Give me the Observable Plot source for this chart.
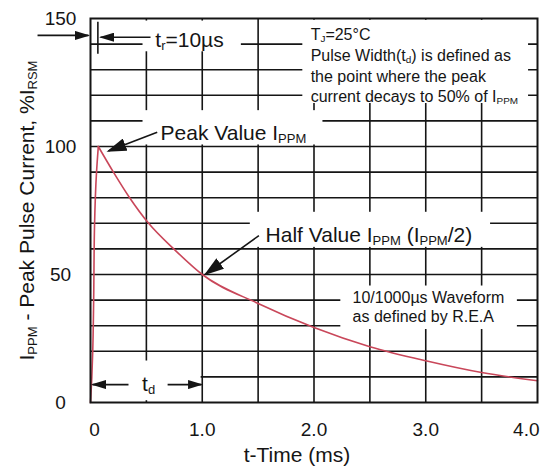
<!DOCTYPE html>
<html>
<head>
<meta charset="utf-8">
<script src="https://cdn.jsdelivr.net/npm/d3@7"></script>
<script src="https://cdn.jsdelivr.net/npm/@observablehq/plot@0.6"></script>
<style>
  html, body { margin: 0; padding: 0; background: #fff; }
</style>
</head>
<body>
<div id="chart"></div>
<script>
// ---- data ----
const xTicks = [0, 1, 2, 3, 4];
const xTickLabels = ["0", "1.0", "2.0", "3.0", "4.0"];
const yTicks = [0, 50, 100, 150];
const yTickLabels = ["0", "50", "100", "150"];
const gridX = [0.5, 1, 1.5, 2, 2.5, 3, 3.5];
const gridY = [10, 20, 30, 40, 50, 60, 70, 80, 90, 100, 110, 120, 130, 140];

// time (ms) and current (% of IRSM) along the 10/1000 µs waveform
const riseT = [0, 0.012, 0.02, 0.028, 0.036, 0.054, 0.07];
const riseI = [0, 10, 20, 39, 69, 90, 100];
const decayT = [0.07, 0.205, 0.35, 0.52, 0.745, 1.0, 1.5, 2.0, 2.5, 3.0, 3.5, 4.0];
const decayI = [100, 90, 80, 70, 60, 50, 38.7, 29.3, 21.8, 16.3, 11.7, 8.5];

const xLabel = "t-Time (ms)";
const yLabel = "I_{PPM} - Peak Pulse Current, %I_{RSM}";

// annotation texts
const bigNotes = [
  {x: 0.58, y: 141.6, text: "t_{r}=10µs"},
  {x: 0.627, y: 105.1, text: "Peak Value I_{PPM}"},
  {x: 1.567, y: 65.2, text: "Half Value I_{PPM} (I_{PPM}/2)"}
];
const tdNote = [{x: 0.52, y: 7.0, text: "t_{d}"}];
const boxNote = [{x: 1.97, y: 132, text: "T_{J}=25°C\nPulse Width(t_{d}) is defined as\nthe point where the peak\ncurrent decays to 50% of I_{PPM}"}];
const waveNote = [{x: 2.345, y: 37.5, text: "10/1000µs Waveform\nas defined by R.E.A"}];

// white boxes behind the annotation texts (hide the grid)
const masks = [
  {x1: 0.47, x2: 1.35, y1: 137, y2: 149},
  {x1: 0.47, x2: 2.08, y1: 100.6, y2: 114},
  {x1: 1.9, x2: 3.92, y1: 116.8, y2: 149.3},
  {x1: 1.43, x2: 3.58, y1: 60.6, y2: 74.3},
  {x1: 2.24, x2: 3.82, y1: 28.5, y2: 45.5},
  {x1: 0.005, x2: 0.99, y1: 0.7, y2: 16.2}
];

// arrows (tail -> tip)
const smallArrows = [
  {x1: -0.474, y1: 143.4, x2: -0.018, y2: 143.4},
  {x1: 0.537, y1: 142.7, x2: 0.09, y2: 142.7},
  {x1: 0.34, y1: 7.0, x2: 0.018, y2: 7.0},
  {x1: 0.69, y1: 7.0, x2: 0.994, y2: 7.0}
];
const bigArrows = [
  {x1: 0.597, y1: 105.6, x2: 0.16, y2: 98.2},
  {x1: 1.507, y1: 65.2, x2: 1.03, y2: 50.2}
];
const trMarker = [0.066];

const rise = riseT.map((t, i) => ({t, v: riseI[i]}));
const decay = decayT.map((t, i) => ({t, v: decayI[i]}));
const ink = "#151515";
const red = "#c9475a";
const fmtX = d => xTickLabels[xTicks.indexOf(d)];

const chart = Plot.plot({
  width: 550,
  height: 470,
  marginLeft: 90,
  marginRight: 13,
  marginTop: 18,
  marginBottom: 68,
  x: {domain: [0, 4]},
  y: {domain: [0, 150]},
  style: {fontFamily: "'Liberation Sans', Arial, Helvetica, sans-serif", background: "white", color: ink},
  marks: [
    Plot.ruleX(gridX, {stroke: ink, strokeWidth: 1.6}),
    Plot.ruleY(gridY, {stroke: ink, strokeWidth: 1.6}),
    Plot.rect(masks, {x1: "x1", x2: "x2", y1: "y1", y2: "y2", fill: "white"}),
    Plot.line(rise, {x: "t", y: "v", stroke: red, strokeWidth: 1.6, curve: "monotone-y"}),
    Plot.line(decay, {x: "t", y: "v", stroke: red, strokeWidth: 1.6, curve: "monotone-x"}),
    Plot.frame({stroke: ink, strokeWidth: 2}),
    Plot.ruleX(trMarker, {y1: 136, y2: 148.5, stroke: ink, strokeWidth: 1.6}),
    Plot.axisX(xTicks.slice(0, 1), {tickSize: 0, tickPadding: 20, fontSize: 19, label: null, dx: 4, tickFormat: fmtX}),
    Plot.axisX(xTicks.slice(1, 4), {tickSize: 0, tickPadding: 20, fontSize: 19, label: null, tickFormat: fmtX}),
    Plot.axisX(xTicks.slice(4), {tickSize: 0, tickPadding: 20, fontSize: 19, label: null, textAnchor: "end", dx: 2, tickFormat: fmtX}),
    Plot.axisY(yTicks, {tickSize: 0, tickPadding: 30, textAnchor: "middle", fontSize: 19, label: null,
      tickFormat: d => yTickLabels[yTicks.indexOf(d)]}),
    Plot.text([xLabel], {text: d => d, frameAnchor: "bottom", lineAnchor: "middle", dy: 53, dx: -17, fontSize: 21}),
    Plot.text([yLabel], {text: d => d, frameAnchor: "left", rotate: -90, textAnchor: "middle", lineAnchor: "middle", dx: -63, fontSize: 21}),
    Plot.text(bigNotes, {x: "x", y: "y", text: "text", textAnchor: "start", lineAnchor: "middle", fontSize: 21}),
    Plot.text(tdNote, {x: "x", y: "y", text: "text", textAnchor: "middle", lineAnchor: "middle", fontSize: 21}),
    Plot.text(boxNote, {x: "x", y: "y", text: "text", textAnchor: "start", lineAnchor: "middle", fontSize: 16, lineHeight: 1.29}),
    Plot.text(waveNote, {x: "x", y: "y", text: "text", textAnchor: "start", lineAnchor: "middle", fontSize: 16, lineHeight: 1.15}),
    Plot.link(smallArrows, {x1: "x1", y1: "y1", x2: "x2", y2: "y2", stroke: ink, strokeWidth: 1.6, markerEnd: "arrow"}),
    Plot.link(bigArrows, {x1: "x1", y1: "y1", x2: "x2", y2: "y2", stroke: ink, strokeWidth: 1.6, markerEnd: "arrow"})
  ]
});

// turn Plot's arrow markers into filled triangular heads
const ns = "http://www.w3.org/2000/svg";
const headSizes = [[15, 9], [20, 13]];
chart.querySelectorAll("marker").forEach((mk, i) => {
  const [w, h] = headSizes[Math.min(i, headSizes.length - 1)];
  mk.setAttribute("viewBox", "0 0 10 10");
  mk.setAttribute("refX", "9");
  mk.setAttribute("refY", "5");
  mk.setAttribute("markerUnits", "userSpaceOnUse");
  mk.setAttribute("markerWidth", w);
  mk.setAttribute("markerHeight", h);
  mk.setAttribute("preserveAspectRatio", "none");
  mk.setAttribute("orient", "auto");
  mk.setAttribute("fill", ink);
  mk.setAttribute("stroke", "none");
  mk.innerHTML = "";
  const p = document.createElementNS(ns, "path");
  p.setAttribute("d", "M0,0L10,5L0,10Z");
  p.setAttribute("fill", ink);
  p.setAttribute("stroke", "none");
  mk.appendChild(p);
});

// subscripts written as _{...}
function addPart(el, str, sub) {
  const t = document.createElementNS(ns, "tspan");
  t.textContent = str;
  if (sub) {
    t.setAttribute("font-size", "62%");
    t.setAttribute("baseline-shift", "-22%");
  }
  el.appendChild(t);
}
chart.querySelectorAll("text, tspan").forEach(el => {
  if (el.children.length) return;
  const s = el.textContent;
  if (!s.includes("_{")) return;
  el.textContent = "";
  const re = /_\{([^}]*)\}/g;
  let last = 0, m;
  while ((m = re.exec(s))) {
    if (m.index > last) addPart(el, s.slice(last, m.index), false);
    addPart(el, m[1], true);
    last = re.lastIndex;
  }
  if (last < s.length) addPart(el, s.slice(last), false);
});

document.getElementById("chart").appendChild(chart);
</script>
</body>
</html>
